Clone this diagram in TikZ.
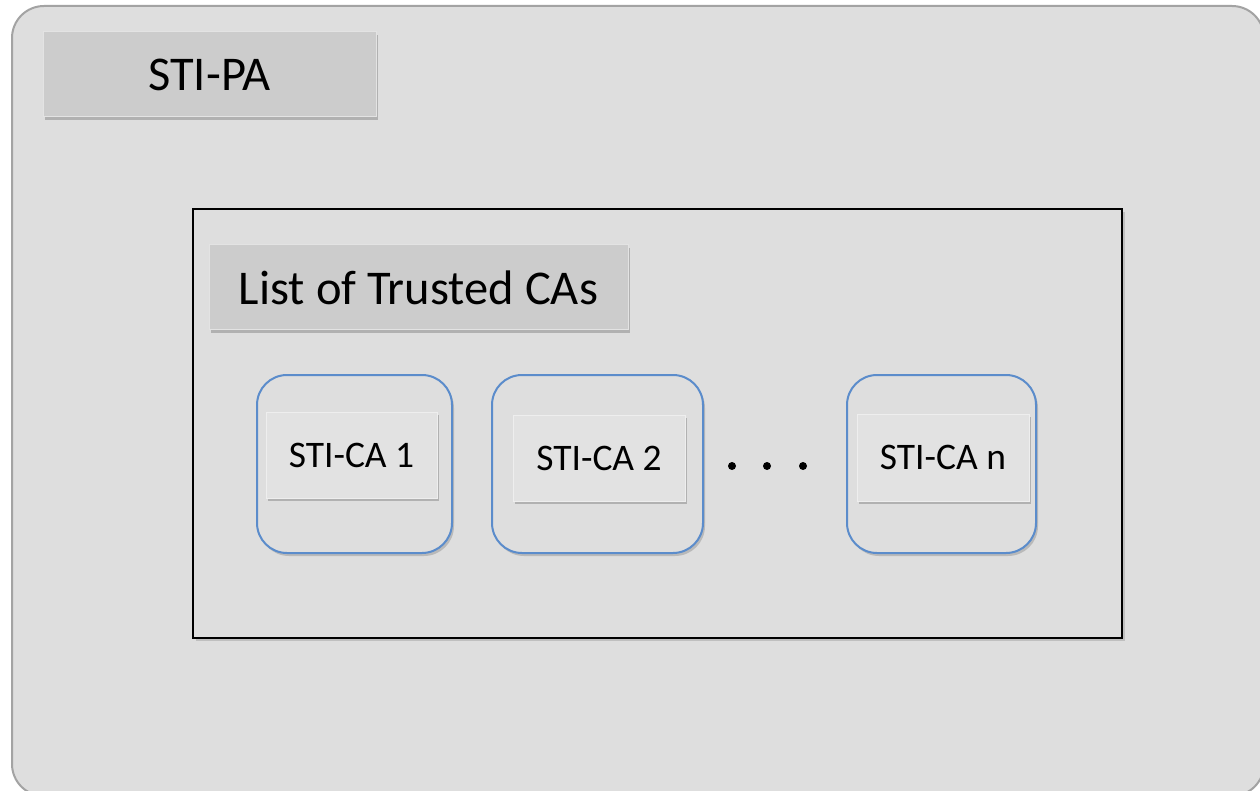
\documentclass[tikz,border=0pt]{standalone}
\usepackage{fontspec}
\setmainfont{Carlito}
\usetikzlibrary{shadows}
\definecolor{bgfill}{HTML}{DEDEDE}
\definecolor{bgline}{HTML}{A3A3A3}
\definecolor{hdrfill}{HTML}{CCCCCC}
\definecolor{lblfill}{HTML}{E2E2E2}
\definecolor{cablue}{HTML}{5B8CCB}
\tikzset{
  outerbox/.style={draw=bgline, line width=2pt, fill=bgfill, rounded corners=32pt, inner sep=0pt, outer sep=0pt},
  hdrbox/.style={draw=white!45!hdrfill, line width=1pt, fill=hdrfill, inner sep=0pt, outer sep=0pt,
     drop shadow={shadow xshift=2pt, shadow yshift=-3pt, opacity=0.3, fill=black!70},
     font=\fontsize{48.5}{54}\selectfont},
  listbox/.style={draw=black, line width=2.2pt, fill=bgfill, inner sep=0pt, outer sep=0pt,
     drop shadow={shadow xshift=3pt, shadow yshift=-3pt, opacity=0.25, fill=black!60}},
  cabox/.style={draw=cablue, line width=2pt, fill=bgfill, rounded corners=30pt, inner sep=0pt, outer sep=0pt,
     drop shadow={shadow xshift=2pt, shadow yshift=-3pt, opacity=0.3, fill=black!60}},
  lblbox/.style={draw=white!40!lblfill, line width=0.8pt, fill=lblfill, inner sep=0pt, outer sep=0pt,
     drop shadow={shadow xshift=2pt, shadow yshift=-3pt, opacity=0.3, fill=black!70},
     font=\fontsize{37.5}{43}\selectfont},
  dotmark/.style={circle, fill=black, inner sep=0pt, minimum size=8pt}
}
\begin{document}
\begin{tikzpicture}[x=1pt, y=-1pt]
\useasboundingbox (0,0) rectangle (1260,791);
\fill[white] (0,0) rectangle (1260,791);
\begin{scope}
\clip (0,0) rectangle (1260,791);
\node[outerbox, minimum width=1252pt, minimum height=790pt] (outer) at (638,401) {};
\end{scope}
\node[hdrbox, minimum width=333pt, minimum height=85pt] (pa) at (209.5,74.5) {STI-PA};
\node[listbox, minimum width=929pt, minimum height=429pt] (list) at (657.5,423.5) {};
\node[hdrbox, minimum width=419pt, minimum height=85pt] (trusted) at (418.5,287.5) {List of Trusted CAs};
\node[cabox, minimum width=195pt, minimum height=178pt] (ca1) at (354.5,464) {};
\node[cabox, minimum width=211pt, minimum height=178pt] (ca2) at (597.5,464) {};
\node[cabox, minimum width=189pt, minimum height=178pt] (can) at (941.5,464) {};
\node[lblbox, minimum width=171pt, minimum height=86pt] (l1) at (351.5,455) {STI-CA 1};
\node[lblbox, minimum width=172pt, minimum height=86pt] (l2) at (599,458) {STI-CA 2};
\node[lblbox, minimum width=172pt, minimum height=87pt] (ln) at (943,457.5) {STI-CA n};
\node[dotmark] (d1) at (732,466) {};
\node[dotmark] (d2) at (767,466) {};
\node[dotmark] (d3) at (803,466) {};
\end{tikzpicture}
\end{document}
